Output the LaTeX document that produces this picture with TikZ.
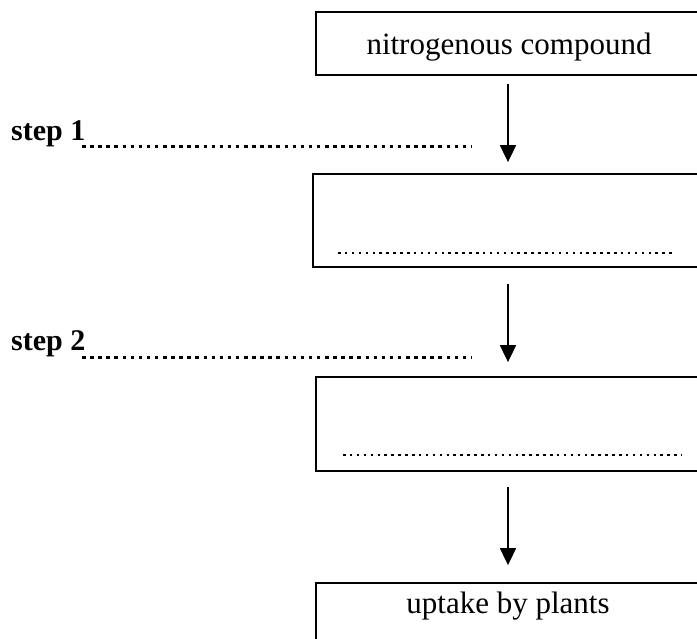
\documentclass[tikz,border=0pt]{standalone}
\usepackage{fontspec}
\setmainfont{Liberation Serif}
\usetikzlibrary{arrows.meta}
\begin{document}
\begin{tikzpicture}[x=1pt,y=-1pt,
  stagebox/.style={draw,line width=1.8pt,rectangle,inner sep=0pt},
  flowarrow/.style={line width=1.8pt,-{Triangle[length=17pt,width=16pt]}},
  stepdots/.style={line width=3.5pt,dash pattern=on 3.5pt off 4.6pt},
  boxdots/.style={line width=2.5pt,dash pattern=on 2.5pt off 4.4pt},
  boxtext/.style={font=\fontsize{31}{37}\selectfont,anchor=base,inner sep=0pt},
  steptext/.style={font=\fontsize{30}{36}\selectfont\bfseries,anchor=base west,inner sep=0pt}]
\useasboundingbox (0,0) rectangle (697,639);
\clip (0,0) rectangle (697,639);
\node[stagebox,minimum width=384pt,minimum height=63pt] (b1) at (508,43.5) {};
\node[stagebox,minimum width=390pt,minimum height=93pt] (b2) at (508,220.5) {};
\node[stagebox,minimum width=384pt,minimum height=94pt] (b3) at (508,424) {};
\node[stagebox,minimum width=384pt,minimum height=63pt] (b4) at (508,614.5) {};
\node[boxtext] (t1) at (509,55) {nitrogenous compound};
\node[boxtext] (t4) at (508,613) {uptake by plants};
\node[steptext] (s1) at (11,140.7) {step 1};
\node[steptext] (s2) at (11,350.7) {step 2};
\coordinate (d1a) at (82,146.7); \coordinate (d1b) at (472,146.7);
\coordinate (d2a) at (82,357.7); \coordinate (d2b) at (472,357.7);
\coordinate (e1a) at (338,253); \coordinate (e1b) at (675,253);
\coordinate (e2a) at (343,455); \coordinate (e2b) at (682,455);
\draw[stepdots] (d1a) -- (d1b);
\draw[stepdots] (d2a) -- (d2b);
\draw[boxdots] (e1a) -- (e1b);
\draw[boxdots] (e2a) -- (e2b);
\draw[flowarrow] ([yshift=-8pt]b1.south) -- ([yshift=11pt]b2.north);
\draw[flowarrow] ([yshift=-16pt]b2.south) -- ([yshift=14pt]b3.north);
\draw[flowarrow] ([yshift=-15pt]b3.south) -- ([yshift=17pt]b4.north);
\end{tikzpicture}
\end{document}
